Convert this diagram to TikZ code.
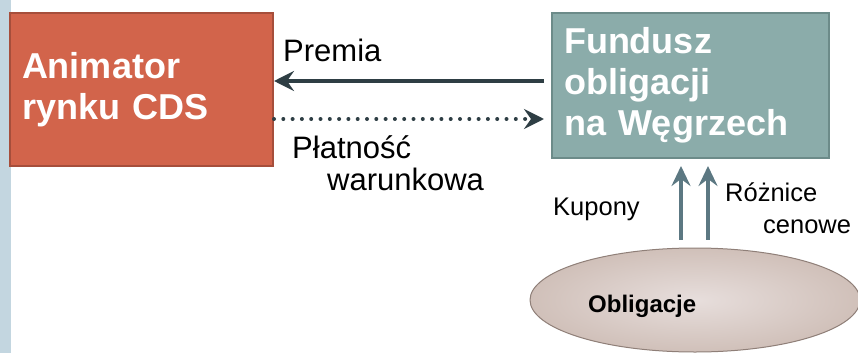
\documentclass[tikz,border=0pt]{standalone}
\usepackage{fontspec}
\setmainfont{Liberation Sans}
\usetikzlibrary{arrows.meta,shapes.geometric}
\definecolor{stripcol}{HTML}{C3D6E0}
\definecolor{orangefill}{HTML}{D2644B}
\definecolor{orangeedge}{HTML}{A64E3B}
\definecolor{tealfill}{HTML}{8BACAA}
\definecolor{tealedge}{HTML}{6C8B89}
\definecolor{darkarrow}{HTML}{2E3E44}
\definecolor{uparrowcol}{HTML}{5C7882}
\definecolor{ellin}{HTML}{E7DEDC}
\definecolor{ellout}{HTML}{D0C0B9}
\definecolor{elledge}{HTML}{8F7F78}
\tikzset{
  boxnode/.style={draw, line width=2pt, rectangle, inner xsep=12pt, inner ysep=0pt,
    align=left, text=white, font=\bfseries\fontsize{36}{41}\selectfont},
  lbl/.style={anchor=base west, inner sep=0pt, text=black},
  hflow/.style={line width=4pt, draw=darkarrow, -{Stealth[length=20pt,width=20pt,inset=7pt]}},
  upflow/.style={line width=4pt, draw=uparrowcol, -{Stealth[length=20pt,width=19pt,inset=7pt]}},
}
\begin{document}
\begin{tikzpicture}[x=1pt,y=-1pt]
\useasboundingbox (0,0) rectangle (858,353);
\fill[stripcol] (0,0) rectangle (11,353);
% boxes
\node[boxnode, fill=orangefill, draw=orangeedge, minimum width=263pt, minimum height=153pt,
      text width=239pt] (anim) at (141.5,89.5) {Animator\\rynku CDS};
\node[boxnode, fill=tealfill, draw=tealedge, minimum width=277pt, minimum height=145pt,
      text width=253pt] (fund) at (690.5,85.5) {Fundusz\\obligacji\\na Węgrzech};
% ellipse
\node[ellipse, draw=elledge, line width=1pt, inner color=ellin, outer color=ellout,
      minimum width=330pt, minimum height=104pt, inner sep=0pt] (obl) at (695,300) {};
\node[lbl, font=\bfseries\fontsize{24}{28}\selectfont] (oblt) at (588,312) {Obligacje};
% horizontal arrows
\draw[hflow] ([xshift=-7pt,yshift=4.5pt]fund.west) -- ([yshift=8.5pt]anim.east);
\draw[hflow, dash pattern=on 0pt off 9.3pt, line cap=round]
  ([xshift=0pt,yshift=-29.5pt]anim.east) -- ([xshift=-7pt,yshift=-33.5pt]fund.west);
% up arrows
\draw[upflow] ([xshift=-14pt,yshift=8pt]obl.north) -- ([xshift=-9.5pt,yshift=-7pt]fund.south);
\draw[upflow] ([xshift=13pt,yshift=8pt]obl.north) -- ([xshift=17.5pt,yshift=-7pt]fund.south);
% labels
\node[lbl, font=\fontsize{31}{36}\selectfont] (premia) at (283,62) {Premia};
\node[lbl, font=\fontsize{31}{36}\selectfont] (plat1) at (292,158) {Płatność};
\node[lbl, font=\fontsize{31}{36}\selectfont] (plat2) at (327,190) {warunkowa};
\node[lbl, font=\fontsize{25.5}{30}\selectfont] (kup) at (553,215) {Kupony};
\node[lbl, font=\fontsize{25.5}{30}\selectfont] (roz1) at (725,201) {Różnice};
\node[lbl, font=\fontsize{25.5}{30}\selectfont] (roz2) at (763,233) {cenowe};
\end{tikzpicture}
\end{document}
